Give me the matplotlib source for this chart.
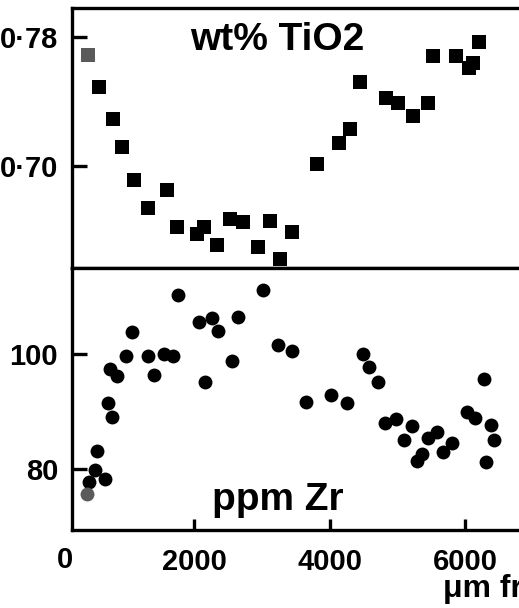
"""plot.py
Two stacked profiles across a grain: wt% TiO2 (top) and ppm Zr (bottom)
plotted against distance in micrometres.
"""

import matplotlib
matplotlib.use("Agg")
import matplotlib.pyplot as plt
import matplotlib.transforms as mtransforms

plt.rcParams["font.family"] = ["Liberation Sans", "DejaVu Sans"]
plt.rcParams["font.weight"] = "bold"

# TiO2 profile (first point is the grey one)
ti_dist = [440, 598, 800, 933, 1119, 1325, 1606, 1745, 2040, 2148,
           2335, 2531, 2728, 2949, 3122, 3269, 3451, 3820, 4145, 4303,
           4450, 4834, 5015, 5237, 5458, 5523, 5867, 6059, 6122, 6207]
ti_wt = [0.769, 0.749, 0.729, 0.712, 0.691, 0.674, 0.685, 0.662, 0.658, 0.662,
         0.651, 0.667, 0.665, 0.650, 0.666, 0.642, 0.659, 0.701, 0.714, 0.723,
         0.752, 0.742, 0.739, 0.731, 0.739, 0.768, 0.768, 0.761, 0.764, 0.777]

# Zr profile (first point is the grey one)
zr_dist = [416, 455, 573, 546, 686, 735, 785, 760, 859, 996,
           1089, 1325, 1414, 1562, 1694, 1768, 2074, 2162, 2270, 2359,
           2565, 2654, 3018, 3244, 3451, 3649, 4022, 4254, 4499, 4587,
           4720, 4819, 4982, 5213, 5100, 5458, 5582, 5361, 5287, 5804,
           5680, 6034, 6148, 6384, 6418, 6310, 6271]
zr_ppm = [75.6, 77.7, 83.1, 79.9, 78.3, 91.5, 89.0, 97.4, 96.2, 99.6,
          103.8, 99.6, 96.4, 100.0, 99.6, 110.3, 105.6, 95.1, 106.3, 104.1,
          98.9, 106.4, 111.2, 101.6, 100.6, 91.7, 92.9, 91.5, 100.0, 97.8,
          95.1, 88.0, 88.7, 87.5, 85.1, 85.4, 86.4, 82.7, 81.4, 84.6,
          83.0, 90.0, 88.9, 87.7, 85.1, 81.3, 95.7]

ti_ticks = [0.70, 0.78]
ti_ticklabels = ["0·70", "0·78"]
zr_ticks = [80, 100]
x_ticks = [2000, 4000, 6000]

fig = plt.figure(figsize=(5.19, 6.08), dpi=100)
ax_top = fig.add_axes([0.1387, 0.5592, 0.8882, 0.4276])
ax_bot = fig.add_axes([0.1387, 0.1283, 0.8882, 0.4309], sharex=ax_top)

for ax in (ax_top, ax_bot):
    for side in ("left", "top", "bottom", "right"):
        ax.spines[side].set_linewidth(2.4)
    ax.tick_params(axis="y", direction="in", length=11, width=2.4,
                   labelsize=21, pad=10)
    ax.tick_params(axis="x", direction="in", length=8, width=2.4,
                   labelsize=21, pad=13)

# top panel
ax_top.scatter(ti_dist[1:], ti_wt[1:], marker="s", s=110, color="black",
               linewidths=0)
ax_top.scatter(ti_dist[:1], ti_wt[:1], marker="s", s=110, color="#5a5a5a",
               linewidths=0)
ax_top.set_ylim(0.6367, 0.798)
ax_top.set_yticks(ti_ticks)
ax_top.set_yticklabels(ti_ticklabels)
ax_top.tick_params(axis="x", labelbottom=False, length=0)
ax_top.text(1941, 0.772, "wt% TiO2", fontsize=28, fontweight="bold",
            ha="left", va="baseline")

# bottom panel
ax_bot.scatter(zr_dist[1:], zr_ppm[1:], marker="o", s=100, color="black",
               linewidths=0)
ax_bot.scatter(zr_dist[:1], zr_ppm[:1], marker="o", s=100, color="#5a5a5a",
               linewidths=0)
ax_bot.set_ylim(69.4, 115.0)
ax_bot.set_yticks(zr_ticks)
ax_bot.set_xlim(200, 7000)
ax_bot.set_xticks(x_ticks)
ax_bot.text(2266, 72.9, "ppm Zr", fontsize=28, fontweight="bold",
            ha="left", va="baseline")

# "0" sits just left of the axis corner in the original
trans = mtransforms.blended_transform_factory(ax_bot.transData, fig.transFigure)
ax_bot.text(100, 1 - 568 / 608, "0", transform=trans, fontsize=21,
            fontweight="bold", ha="center", va="baseline", clip_on=False)

# the x label runs off the right edge, as in the source figure
fig.text(443 / 519, 1 - 597 / 608, "μm from rim", fontsize=23,
         fontweight="bold", ha="left", va="baseline")

fig.savefig("out.png", dpi=100)
